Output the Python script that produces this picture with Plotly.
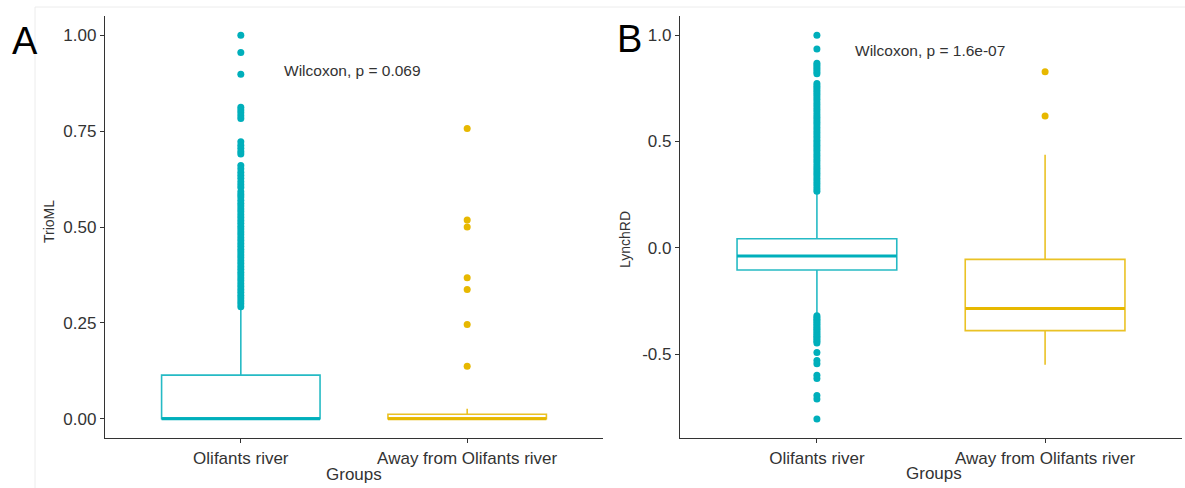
import plotly.graph_objects as go

W, H = 1185, 488

groups = ["Olifants river", "Away from Olifants river"]
group_pos = [1, 2]
colors = ["#00AFBB", "#E7B800"]
BOX_W = 0.7

# Panel A: TrioML
trio_q1 = [0.0, 0.0]
trio_median = [0.0, 0.0]
trio_q3 = [0.114, 0.012]
trio_lower = [0.0, 0.0]
trio_upper = [0.284, 0.026]
trio_out_olifants = [1.00, 0.955, 0.898, 0.812, 0.805, 0.798, 0.79, 0.783, 0.722, 0.713,
                     0.705, 0.697, 0.69, 0.66, 0.652, 0.643, 0.635, 0.627, 0.618, 0.61,
                     0.603, 0.592, 0.585, 0.578, 0.57, 0.562, 0.555, 0.547, 0.54, 0.532,
                     0.525, 0.517, 0.51, 0.502, 0.495, 0.487, 0.48, 0.472, 0.465, 0.457,
                     0.45, 0.442, 0.435, 0.427, 0.42, 0.412, 0.405, 0.397, 0.39, 0.382,
                     0.375, 0.367, 0.36, 0.352, 0.345, 0.337, 0.33, 0.322, 0.315, 0.307,
                     0.30, 0.292]
trio_out_away = [0.757, 0.518, 0.50, 0.368, 0.337, 0.246, 0.137]

# Panel B: LynchRD
lynch_q1 = [-0.105, -0.39]
lynch_median = [-0.039, -0.286]
lynch_q3 = [0.042, -0.055]
lynch_lower = [-0.315, -0.55]
lynch_upper = [0.255, 0.437]
lynch_out_olifants = [1.0, 0.935, 0.868, 0.858, 0.848, 0.838, 0.828, 0.818, 0.772, 0.762,
                      0.752, 0.742, 0.732, 0.722, 0.71, 0.698, 0.686, 0.674, 0.662, 0.65,
                      0.638, 0.626, 0.614, 0.602, 0.59, 0.578, 0.566, 0.554, 0.542, 0.53,
                      0.518, 0.506, 0.494, 0.482, 0.47, 0.458, 0.446, 0.434, 0.422, 0.41,
                      0.398, 0.386, 0.374, 0.362, 0.35, 0.338, 0.326, 0.314, 0.302, 0.29,
                      0.278, 0.266,
                      -0.32, -0.328, -0.336, -0.344, -0.352, -0.36, -0.368, -0.376, -0.384,
                      -0.392, -0.40, -0.408, -0.416, -0.424, -0.432, -0.44, -0.448, -0.493,
                      -0.53, -0.546, -0.60, -0.615, -0.695, -0.711, -0.806]
lynch_out_away = [0.828, 0.62]

panels = [
    dict(xa="x", ya="y", q1=trio_q1, med=trio_median, q3=trio_q3, lo=trio_lower, hi=trio_upper,
         outs=[trio_out_olifants, trio_out_away]),
    dict(xa="x2", ya="y2", q1=lynch_q1, med=lynch_median, q3=lynch_q3, lo=lynch_lower, hi=lynch_upper,
         outs=[lynch_out_olifants, lynch_out_away]),
]

fig = go.Figure()
for p in panels:
    for i in range(2):
        fig.add_trace(go.Box(
            x=[group_pos[i]], q1=[p["q1"][i]], median=[p["med"][i]], q3=[p["q3"][i]],
            lowerfence=[p["lo"][i]], upperfence=[p["hi"][i]],
            width=BOX_W, boxpoints=False, whiskerwidth=0,
            fillcolor="white", line=dict(color=colors[i], width=1.6),
            opacity=0.85,
            xaxis=p["xa"], yaxis=p["ya"], showlegend=False, hoverinfo="skip"))
        fig.add_trace(go.Scatter(
            x=[group_pos[i] - BOX_W / 2, group_pos[i] + BOX_W / 2],
            y=[p["med"][i], p["med"][i]], mode="lines",
            line=dict(color=colors[i], width=3),
            xaxis=p["xa"], yaxis=p["ya"], showlegend=False, hoverinfo="skip"))
        fig.add_trace(go.Scatter(
            x=[group_pos[i]] * len(p["outs"][i]), y=p["outs"][i], mode="markers",
            marker=dict(color=colors[i], size=7, line=dict(width=0)),
            xaxis=p["xa"], yaxis=p["ya"], showlegend=False, hoverinfo="skip"))

axis_col = "#333333"
font_fam = "Liberation Sans, Arial, sans-serif"
y_dom = [1 - 438 / H, 1 - 16 / H]

xcommon = dict(range=[0.4, 2.6], tickmode="array", tickvals=group_pos, ticktext=groups,
               showline=True, linecolor=axis_col, linewidth=1.3, ticks="outside",
               ticklen=4, tickcolor=axis_col, tickwidth=1.2, showgrid=False, zeroline=False,
               tickfont=dict(size=17, color="#333333", family=font_fam))
ycommon = dict(showline=True, linecolor=axis_col, linewidth=1.3, ticks="outside",
               ticklen=4, tickcolor=axis_col, tickwidth=1.2, showgrid=False, zeroline=False,
               tickfont=dict(size=17, color="#333333", family=font_fam), domain=y_dom)

fig.update_layout(
    width=W, height=H, margin=dict(l=0, r=0, t=0, b=0),
    paper_bgcolor="white", plot_bgcolor="white",
    font=dict(family=font_fam, color="#333333"),
    xaxis=dict(domain=[105 / W, 603 / W], anchor="y", **xcommon),
    yaxis=dict(range=[-0.05, 1.05], tickvals=[0, 0.25, 0.5, 0.75, 1.0],
               ticktext=["0.00", "0.25", "0.50", "0.75", "1.00"], anchor="x", **ycommon),
    xaxis2=dict(domain=[680 / W, 1182 / W], anchor="y2", **xcommon),
    yaxis2=dict(range=[-0.895, 1.09], tickvals=[-0.5, 0, 0.5, 1.0],
                ticktext=["-0.5", "0.0", "0.5", "1.0"], anchor="x2", **ycommon),
)

def ann(text, px, py, size, xanchor="center", color="#333333", **kw):
    fig.add_annotation(text=text, x=px / W, y=1 - py / H, xref="paper", yref="paper",
                       xanchor=xanchor, yanchor="middle",
                       showarrow=False, font=dict(size=size, family=font_fam, color=color), **kw)

ann("A", 25, 41, 38, color="black")
ann("B", 630, 39, 38, color="black")
ann("Wilcoxon, p = 0.069", 282, 70, 15.5, xanchor="left")
ann("Wilcoxon, p = 1.6e-07", 853, 50, 15.5, xanchor="left")
ann("TrioML", 49, 222, 14, textangle=-90)
ann("LynchRD", 625, 240, 14, textangle=-90)
ann("Groups", 354, 474, 17)
ann("Groups", 934, 473, 17)

# faint frame of the original image panels
fig.add_shape(type="line", xref="paper", yref="paper", x0=35 / W, x1=1, y0=1 - 7 / H, y1=1 - 7 / H,
              line=dict(color="#ececec", width=1))
fig.add_shape(type="line", xref="paper", yref="paper", x0=35 / W, x1=35 / W, y0=0, y1=1 - 7 / H,
              line=dict(color="#ececec", width=1))

fig.write_html("out.html")
